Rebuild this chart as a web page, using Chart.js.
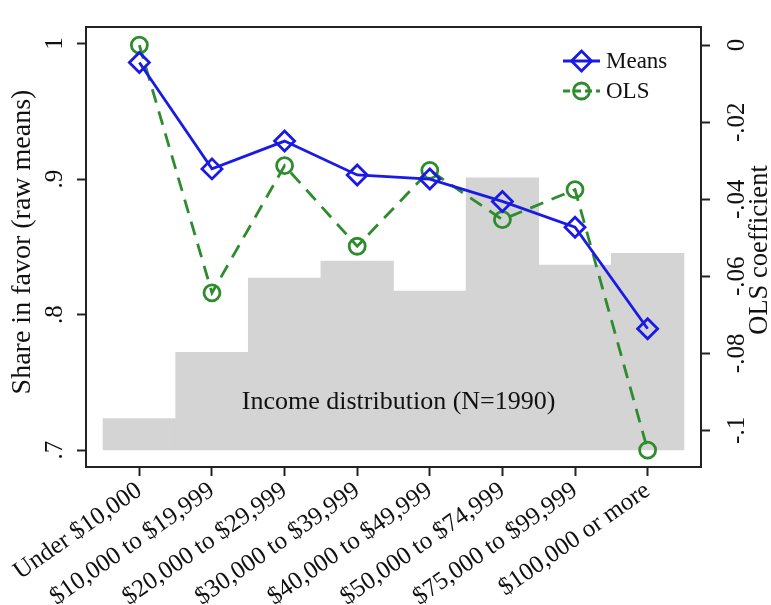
<!DOCTYPE html>
<html>
<head>
<meta charset="utf-8">
<script src="https://cdn.jsdelivr.net/npm/chart.js@4.4.1/dist/chart.umd.min.js"></script>
<style>
  body { margin: 0; background: #fff; }
  #wrap { width: 771px; height: 605px; }
</style>
</head>
<body>
<div id="wrap"><canvas id="chart" width="771" height="605"></canvas></div>
<script>
// Data
const categories = ['Under $10,000', '$10,000 to $19,999', '$20,000 to $29,999', '$30,000 to $39,999',
                    '$40,000 to $49,999', '$50,000 to $74,999', '$75,000 to $99,999', '$100,000 or more'];
const meansValues = [0.986, 0.9075, 0.928, 0.903, 0.900, 0.8835, 0.8645, 0.7895];   // left axis
const olsValues = [0.000, -0.0643, -0.0313, -0.0522, -0.0325, -0.0453, -0.0375, -0.1051]; // right axis
const incomeShares = [2.4, 7.5, 13.2, 14.5, 12.2, 20.9, 14.2, 15.1];   // % of respondents (N=1990)
const leftTicks = [0.7, 0.8, 0.9, 1];
const rightTicks = [-0.1, -0.08, -0.06, -0.04, -0.02, 0];

const BLUE = '#1a1ae6';
const GREEN = '#2e8b2e';
const INK = '#111';
const SERIF = '"Liberation Serif", "Times New Roman", serif';

Chart.defaults.font.family = SERIF;
Chart.defaults.color = INK;

// turn 0.9 into ".9", -0.02 into "-.02"
function stataNum(v) {
    let s = String(+v.toFixed(3));
    return s.replace('0.', '.');
}

// Frame, axis titles, the text inside the plot and the legend
const decor = {
    id: 'decor',
    afterDraw(chart) {
        const ctx = chart.ctx;
        const a = chart.chartArea;
        ctx.save();

        ctx.strokeStyle = '#222';
        ctx.lineWidth = 2;
        ctx.strokeRect(a.left, a.top, a.right - a.left, a.bottom - a.top);

        ctx.fillStyle = INK;
        ctx.textAlign = 'center';
        ctx.textBaseline = 'middle';
        let midY = (a.top + a.bottom) / 2;

        ctx.save();
        ctx.font = '28px ' + SERIF;
        ctx.translate(a.left - 63, midY - 5);
        ctx.rotate(-Math.PI / 2);
        ctx.fillText('Share in favor (raw means)', 0, 0);
        ctx.restore();

        ctx.save();
        ctx.font = '26.5px ' + SERIF;
        ctx.translate(chart.width - 11, midY + 3);
        ctx.rotate(-Math.PI / 2);
        ctx.fillText('OLS coefficient', 0, 0);
        ctx.restore();

        // label over the histogram
        const xs = chart.scales.x, ys = chart.scales.y;
        ctx.font = '26px ' + SERIF;
        ctx.fillText('Income distribution (N=1990)', xs.getPixelForValue(3.57), ys.getPixelForValue(0.7355));

        // legend: line + marker, then the name
        const rows = [
            { name: 'Means', color: BLUE, dash: [], y: a.top + 34, marker: 'diamond' },
            { name: 'OLS', color: GREEN, dash: [7, 4], y: a.top + 64, marker: 'circle' }
        ];
        ctx.font = '23px ' + SERIF;
        ctx.textAlign = 'left';
        rows.forEach(function (r) {
            let x0 = a.right - 138, x1 = a.right - 101, cx = (x0 + x1) / 2;
            ctx.strokeStyle = r.color;
            ctx.lineWidth = 2.8;
            ctx.setLineDash(r.dash);
            ctx.beginPath();
            ctx.moveTo(x0, r.y);
            ctx.lineTo(x1, r.y);
            ctx.stroke();
            ctx.setLineDash([]);
            ctx.beginPath();
            if (r.marker === 'diamond') {
                ctx.moveTo(cx, r.y - 10);
                ctx.lineTo(cx + 10, r.y);
                ctx.lineTo(cx, r.y + 10);
                ctx.lineTo(cx - 10, r.y);
                ctx.closePath();
            } else {
                ctx.arc(cx, r.y, 8, 0, Math.PI * 2);
            }
            ctx.stroke();
            ctx.fillStyle = INK;
            ctx.fillText(r.name, a.right - 95, r.y + 1);
        });

        ctx.restore();
    }
};

const tickGrid = {
    drawOnChartArea: false,
    offset: false,
    tickLength: 9,
    tickWidth: 2,
    tickColor: '#222'
};

new Chart(document.getElementById('chart'), {
    type: 'line',
    data: {
        labels: categories.map((c, i) => i),
        datasets: [
            {
                label: 'Means',
                data: meansValues,
                yAxisID: 'y',
                order: 1,
                borderColor: BLUE,
                borderWidth: 2.8,
                pointStyle: 'rectRot',
                pointRadius: 10,
                pointBorderWidth: 2.8,
                pointBorderColor: BLUE,
                pointBackgroundColor: 'rgba(0,0,0,0)',
                tension: 0
            },
            {
                label: 'OLS',
                data: olsValues,
                yAxisID: 'y2',
                order: 2,
                borderColor: GREEN,
                borderWidth: 2.8,
                borderDash: [14, 9],
                pointStyle: 'circle',
                pointRadius: 8,
                pointBorderWidth: 2.8,
                pointBorderColor: GREEN,
                pointBackgroundColor: 'rgba(0,0,0,0)',
                tension: 0
            },
            {
                type: 'bar',
                label: 'Income distribution',
                data: incomeShares,
                yAxisID: 'yh',
                order: 3,
                backgroundColor: '#d4d4d4',
                borderWidth: 0,
                barPercentage: 1,
                categoryPercentage: 1
            }
        ]
    },
    options: {
        responsive: false,
        animation: false,
        layout: { padding: { top: 9, left: 0, right: 0, bottom: 0 } },
        plugins: {
            legend: { display: false },
            tooltip: { enabled: false }
        },
        scales: {
            x: {
                type: 'linear',
                position: 'bottom',
                min: -0.735,
                max: 7.735,
                offset: false,
                afterBuildTicks: s => { s.ticks = categories.map((c, i) => ({ value: i })); },
                afterFit: s => { s.height = 138; },
                border: { display: false },
                grid: tickGrid,
                ticks: {
                    autoSkip: false,
                    minRotation: 35,
                    maxRotation: 35,
                    padding: 0,
                    font: { size: 25 },
                    color: INK,
                    callback: v => categories[v]
                }
            },
            y: {
                position: 'left',
                min: 0.6875,
                max: 1.0122,
                afterBuildTicks: s => { s.ticks = leftTicks.map(v => ({ value: v })); },
                afterFit: s => { s.width = 86; },
                border: { display: false },
                grid: tickGrid,
                ticks: {
                    minRotation: 90,
                    maxRotation: 90,
                    crossAlign: 'center',
                    padding: 12,
                    font: { size: 25 },
                    color: INK,
                    callback: v => stataNum(v)
                }
            },
            y2: {
                position: 'right',
                min: -0.1095,
                max: 0.0047,
                afterBuildTicks: s => { s.ticks = rightTicks.map(v => ({ value: v })); },
                afterFit: s => { s.width = 70; },
                border: { display: false },
                grid: tickGrid,
                ticks: {
                    minRotation: 90,
                    maxRotation: 90,
                    crossAlign: 'center',
                    padding: 8,
                    font: { size: 25 },
                    color: INK,
                    callback: v => stataNum(v)
                }
            },
            yh: {
                display: false,
                min: -1.31,
                max: 32.49
            }
        }
    },
    plugins: [decor]
});
</script>
</body>
</html>
